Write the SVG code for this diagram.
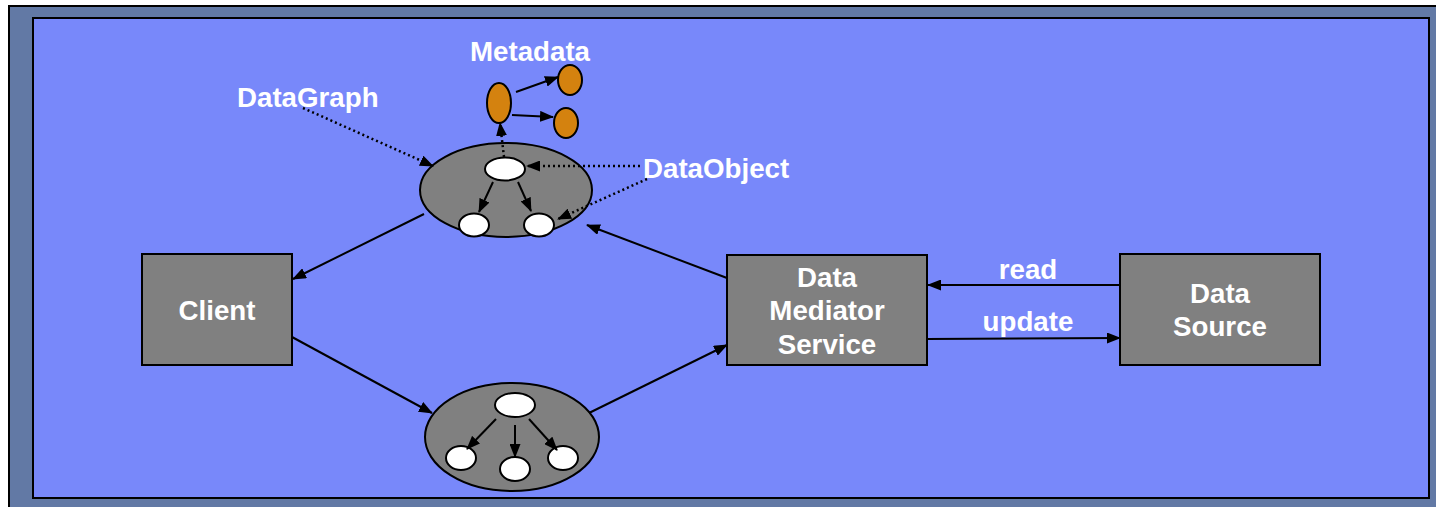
<svg xmlns="http://www.w3.org/2000/svg" width="1436" height="507" viewBox="0 0 1436 507">
  <defs>
    <style>
      .frame { fill: #6279A5; stroke: #000; stroke-width: 2; }
      .panel { fill: #7888FA; stroke: #000; stroke-width: 2; }
      .box { fill: #808080; stroke: #000; stroke-width: 2; }
      .graph { fill: #808080; stroke: #000; stroke-width: 2; }
      .obj { fill: #fff; stroke: #000; stroke-width: 2; }
      .meta { fill: #D4820F; stroke: #000; stroke-width: 2; }
      .lbl { font-family: "Liberation Sans", Arial, sans-serif; font-weight: bold; font-size: 27.7px; fill: #fff; text-anchor: middle; }
      .lblL { font-family: "Liberation Sans", Arial, sans-serif; font-weight: bold; font-size: 27.7px; fill: #fff; }
      .edge { stroke: #000; stroke-width: 2; fill: none; marker-end: url(#arrow); }
      .dot { stroke: #000; stroke-width: 2.5; fill: none; stroke-dasharray: 2 3; marker-end: url(#arrow); }
    </style>
    <marker id="arrow" viewBox="0 0 14 11" refX="13" refY="5.5" markerWidth="14" markerHeight="11" markerUnits="userSpaceOnUse" orient="auto">
      <path d="M0,0 L14,5.5 L0,11 Z" fill="#000"/>
    </marker>
  </defs>

  <!-- background frame and panel -->
  <rect class="frame" x="9" y="6" width="1440" height="510"/>
  <rect class="panel" x="33" y="18" width="1396" height="480"/>

  <!-- nodes -->
  <g id="client">
    <rect class="box" x="142" y="254" width="150" height="111"/>
    <text class="lbl" x="217" y="320">Client</text>
  </g>

  <g id="mediator">
    <rect class="box" x="727" y="255" width="200" height="110"/>
    <text class="lbl" x="827" y="287">Data</text>
    <text class="lbl" x="827" y="320">Mediator</text>
    <text class="lbl" x="827" y="354">Service</text>
  </g>

  <g id="datasource">
    <rect class="box" x="1120" y="254" width="200" height="111"/>
    <text class="lbl" x="1220" y="303">Data</text>
    <text class="lbl" x="1220" y="336">Source</text>
  </g>

  <g id="datagraph-top">
    <ellipse class="graph" cx="506" cy="190" rx="86" ry="47"/>
    <ellipse class="obj" cx="505" cy="169" rx="20" ry="11.5"/>
    <ellipse class="obj" cx="474" cy="225" rx="15" ry="11.5"/>
    <ellipse class="obj" cx="539" cy="225" rx="15" ry="11.5"/>
    <line class="edge" x1="493" y1="182" x2="479" y2="212"/>
    <line class="edge" x1="518" y1="182" x2="531" y2="211"/>
  </g>

  <g id="datagraph-bottom">
    <ellipse class="graph" cx="512" cy="437" rx="87" ry="54"/>
    <ellipse class="obj" cx="515" cy="405" rx="20" ry="12"/>
    <ellipse class="obj" cx="461" cy="458" rx="15" ry="12"/>
    <ellipse class="obj" cx="515" cy="469" rx="15" ry="12"/>
    <ellipse class="obj" cx="563" cy="458" rx="15" ry="12"/>
    <line class="edge" x1="496" y1="419" x2="467" y2="449"/>
    <line class="edge" x1="515" y1="425" x2="515" y2="457"/>
    <line class="edge" x1="529" y1="419" x2="557" y2="450"/>
  </g>

  <g id="metadata">
    <ellipse class="meta" cx="499" cy="103" rx="12" ry="20"/>
    <ellipse class="meta" cx="570" cy="80" rx="12" ry="15"/>
    <ellipse class="meta" cx="566" cy="123" rx="12" ry="15"/>
    <line class="edge" x1="516" y1="92" x2="558" y2="77"/>
    <line class="edge" x1="512" y1="115" x2="553" y2="117"/>
    <text class="lblL" x="470" y="61">Metadata</text>
  </g>

  <g id="labels">
    <text class="lblL" x="237" y="107">DataGraph</text>
    <text class="lblL" x="643" y="178">DataObject</text>
    <text class="lbl" x="1028" y="279">read</text>
    <text class="lbl" x="1028" y="331">update</text>
  </g>

  <!-- connectors -->
  <g id="connectors">
    <line class="edge" x1="424" y1="214" x2="293" y2="279"/>
    <line class="edge" x1="292" y1="337" x2="432" y2="413"/>
    <line class="edge" x1="589" y1="413" x2="727" y2="345"/>
    <line class="edge" x1="727" y1="278" x2="587" y2="225"/>
    <line class="edge" x1="1120" y1="285" x2="928" y2="285"/>
    <line class="edge" x1="927" y1="339" x2="1120" y2="338"/>
    <line class="dot" x1="303" y1="108" x2="433" y2="166"/>
    <line class="dot" x1="640" y1="166" x2="527" y2="166"/>
    <line class="dot" x1="647" y1="179" x2="558" y2="219"/>
    <line class="dot" x1="504" y1="157" x2="500" y2="123"/>
  </g>
</svg>
